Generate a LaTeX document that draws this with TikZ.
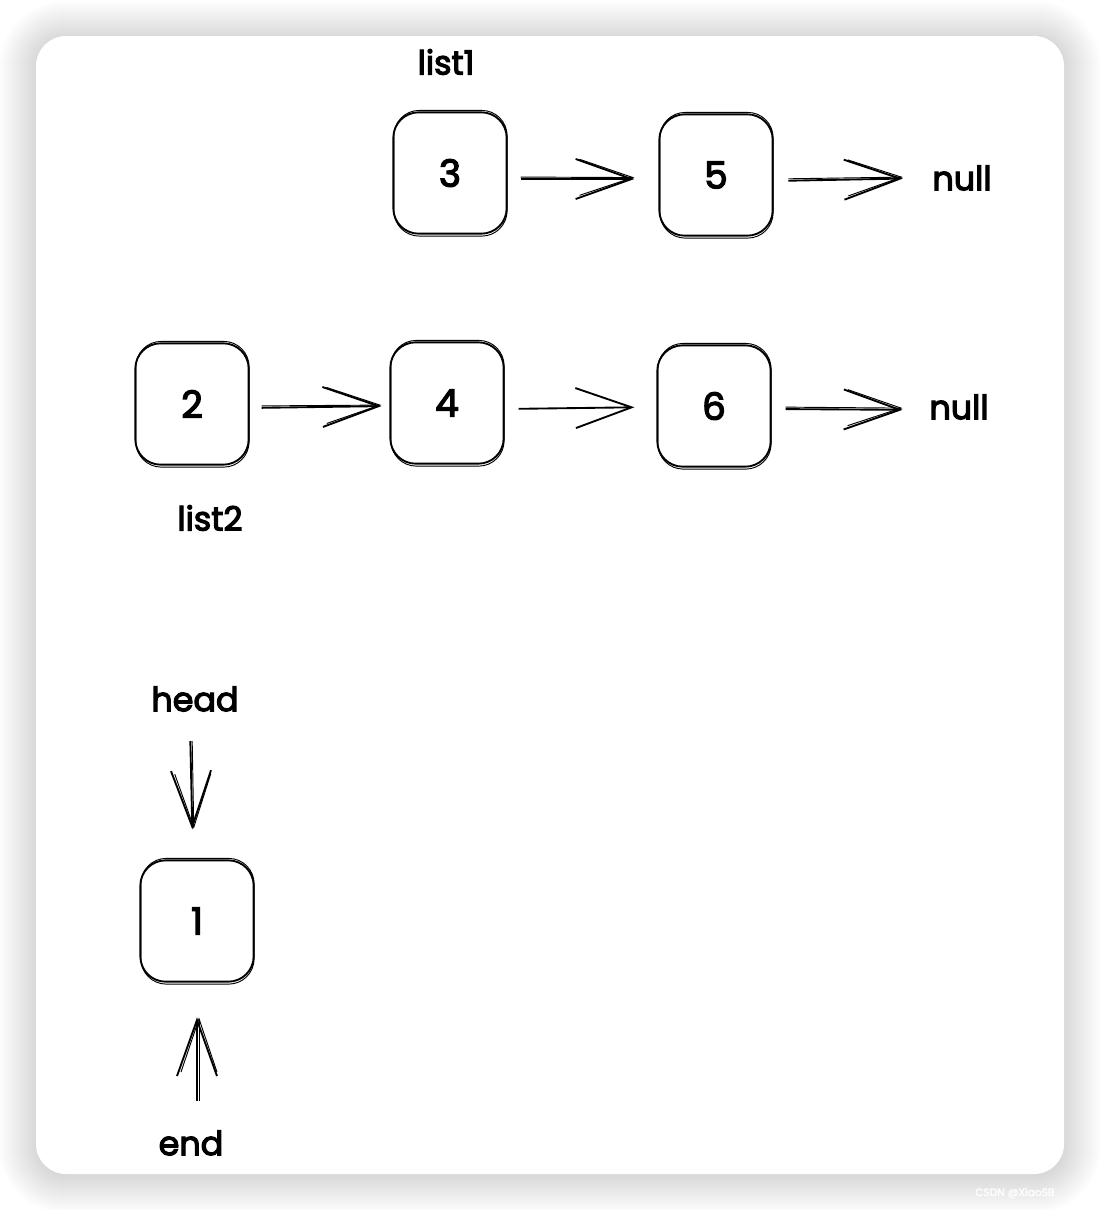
\documentclass[tikz,border=0pt]{standalone}
\usepackage{fontspec}
\setmainfont{Poppins}[UprightFeatures={FakeBold=3.5}]
\usetikzlibrary{arrows.meta}
\begin{document}
\begin{tikzpicture}[x=0.75pt,y=-0.75pt,
  box/.style={draw, line width=1.4pt, rounded corners=19pt, minimum width=85pt, minimum height=91pt, inner sep=0pt, font=\fontsize{28}{30}\selectfont},
  lbl/.style={font=\fontsize{25}{28}\selectfont, inner sep=0pt},
  arr/.style={line width=1.4pt, -{Straight Barb[length=42pt,width=30pt,line width=1.4pt]}},
  arrb/.style={line width=0.7pt, -{Straight Barb[length=40pt,width=27pt,line width=0.7pt]}},
  shade/.style={fill=black, fill opacity=0.0055, rounded corners=#1}
]
\useasboundingbox (0,0) rectangle (1100,1210);
\fill[white] (0,0) rectangle (1100,1210);
% card shadow
\foreach \i in {1,...,38} {
  \pgfmathsetmacro{\r}{30+\i}
  \fill[shade=\r*0.75pt] (36-\i,36-\i+2) rectangle (1064+\i,1174+\i+2);
}
\fill[white, rounded corners=22.5pt] (36,36) rectangle (1064,1174);
\node[text=white, opacity=0.85, font=\fontsize{8}{9}\selectfont, anchor=west, inner sep=0pt] (wm) at (975,1193) {CSDN @XiaoSB};

% boxes
\node[box] (n3) at (450,173) {3};
\node[box] (n5) at (716,175) {5};
\node[box] (n2) at (192,404) {2};
\node[box] (n4) at (447,403) {4};
\node[box] (n6) at (714,406) {6};
\node[box] (n1) at (197,921) {1};
\foreach \n in {n3,n5,n2,n4,n6,n1}
  \draw[line width=0.7pt, rounded corners=19pt] ([shift={(1.5,-1)}]\n.north west) rectangle ([shift={(-0.5,1.5)}]\n.south east);

% labels
\node[lbl] (list1) at (446,62) {list1};
\node[lbl] (null1) at (962,178) {null};
\node[lbl] (null2) at (959,407) {null};
\node[lbl] (list2) at (210,518) {list2};
\node[lbl] (head) at (195,699) {head};
\node[lbl] (end) at (191,1143) {end};

% connectors
\draw[arr, shorten <=9.75pt, shorten >=18pt] ([yshift=-4.5pt]n3.east) -- ([yshift=-3pt]n5.west);
\draw[arrb, shorten <=9.75pt, shorten >=18pt] ([yshift=-3pt]n3.east) -- ([yshift=-2pt]n5.west);
\draw[arr, shorten <=11pt, shorten >=22pt] ([yshift=-4.5pt]n5.east) -- (null1.west);
\draw[arrb, shorten <=11pt, shorten >=22pt] ([yshift=-3pt]n5.east) -- ([yshift=1pt]null1.west);
\draw[arr, shorten <=9pt, shorten >=6pt] ([yshift=-3pt]n2.east) -- ([yshift=-2.25pt]n4.west);
\draw[arrb, shorten <=9pt, shorten >=6pt] ([yshift=-1.5pt]n2.east) -- ([yshift=-1.5pt]n4.west);
\draw[arr, shorten <=10.5pt, shorten >=16.5pt] ([yshift=-4.5pt]n4.east) -- ([yshift=-0.75pt]n6.west);
\draw[arr, shorten <=10.5pt, shorten >=20pt] ([yshift=-2.25pt]n6.east) -- ([yshift=-2.25pt]null2.west);
\draw[arrb, shorten <=10.5pt, shorten >=20pt] ([yshift=-0.75pt]n6.east) -- ([yshift=-1pt]null2.west);
\draw[arr, shorten <=22pt, shorten >=22.5pt] ([xshift=-4pt]head.south) -- ([xshift=-3pt]n1.north);
\draw[arrb, shorten <=22pt, shorten >=23pt] ([xshift=-2.5pt]head.south) -- ([xshift=-2pt]n1.north);
\draw[arr, shorten <=22pt, shorten >=26pt] ([xshift=4.5pt]end.north) -- (n1.south);
\draw[arrb, shorten <=22pt, shorten >=26pt] ([xshift=6pt]end.north) -- ([xshift=1.5pt]n1.south);
\end{tikzpicture}
\end{document}
